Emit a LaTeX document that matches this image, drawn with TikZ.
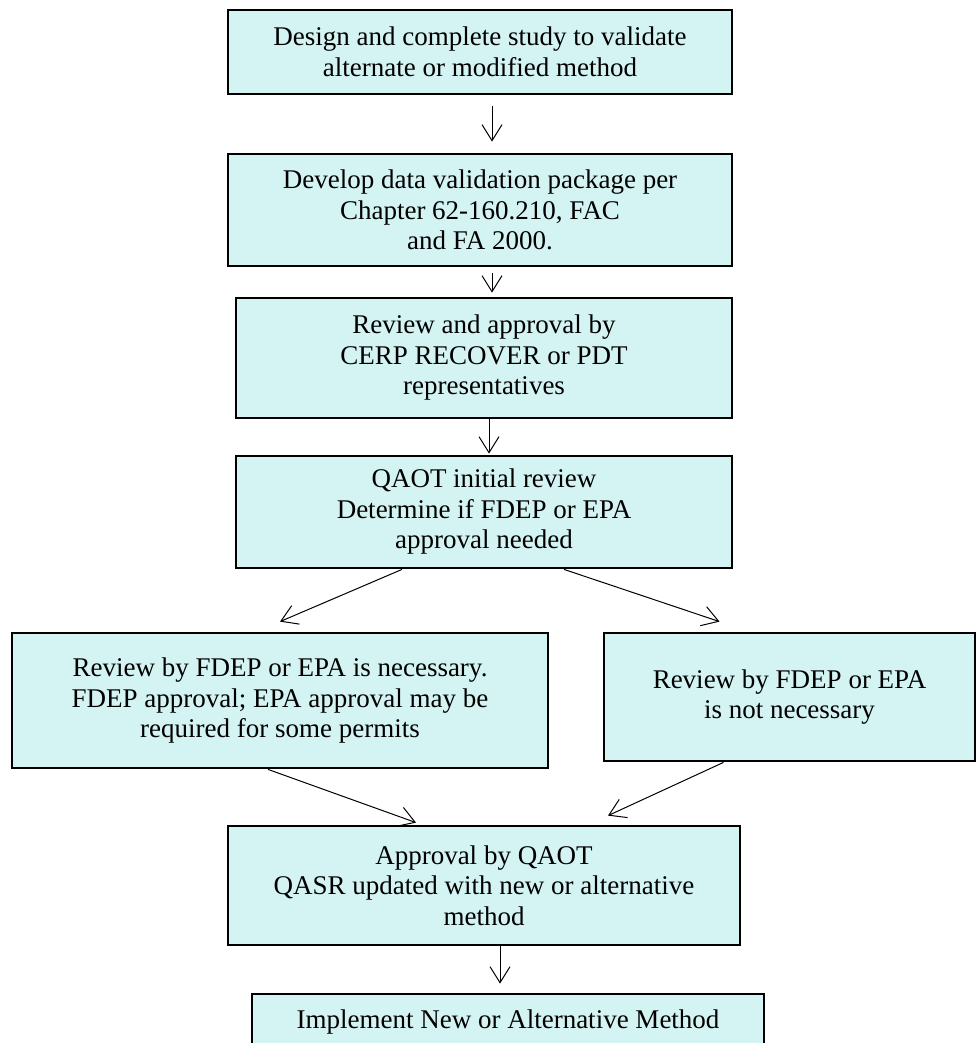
\documentclass[tikz,border=0pt]{standalone}
\usepackage{fontspec}
\setmainfont{Liberation Serif}
\usetikzlibrary{arrows.meta}
\definecolor{boxcyan}{RGB}{212,243,243}

\begin{document}
\begin{tikzpicture}[
  x=1pt, y=-1pt,
  >={Straight Barb[length=16pt,width=20pt]},
  flowbox/.style={draw, line width=2.8pt, fill=boxcyan, align=center, inner sep=0pt,
    font=\fontsize{27}{30.5}\selectfont},
  link/.style={->, line width=1pt},
]
  \useasboundingbox (0,0) rectangle (977,1043);
  \clip (0,0) rectangle (977,1043);

  % Row 1-4: study, package, review, QAOT check
  \node[flowbox, minimum width=504pt, minimum height=84pt] (design) at (480,52)
    {Design and complete study to validate\\alternate or modified method};
  \node[flowbox, minimum width=504pt, minimum height=112pt] (pkg) at (480,210)
    {Develop data validation package per\\Chapter 62-160.210, FAC\\and FA 2000.};
  \node[flowbox, minimum width=496pt, minimum height=120pt] (review) at (484,358)
    {Review and approval by\\CERP RECOVER or PDT\\representatives};
  \node[flowbox, minimum width=496pt, minimum height=112pt] (qaot) at (484,512)
    {QAOT initial review\\Determine if FDEP or EPA\\approval needed};

  % Row 5: the two outcomes
  \node[flowbox, minimum width=536pt, minimum height=135pt] (need) at (280,700.5)
    {Review by FDEP or EPA is necessary.\\FDEP approval; EPA approval may be\\required for some permits};
  \node[flowbox, minimum width=371pt, minimum height=128pt] (noneed) at (789.5,697)
    {Review by FDEP or EPA\\is not necessary};

  % Row 6-7: approval and implementation
  \node[flowbox, minimum width=512pt, minimum height=119pt] (approve) at (484,885.5)
    {Approval by QAOT\\QASR updated with new or alternative\\method};
  \node[flowbox, minimum width=512pt, minimum height=56pt] (impl) at (508,1022)
    {Implement New or Alternative Method};

  % Edges
  \draw[link] ([xshift=12pt,yshift=-11pt]design.south) -- ([xshift=12pt,yshift=11pt]pkg.north);
  \draw[link] ([xshift=12pt,yshift=-6pt]pkg.south) -- ([xshift=8pt,yshift=4pt]review.north);
  \draw[link] ([xshift=5pt]review.south) -- ([xshift=5pt,yshift=1pt]qaot.north);
  \draw[link] ([xshift=-82pt]qaot.south) -- ([yshift=10pt]need.north);
  \draw[link] ([xshift=80pt]qaot.south) -- ([xshift=-70pt,yshift=10pt]noneed.north);
  \draw[link] ([xshift=-12pt]need.south) -- ([xshift=-68pt,yshift=2pt]approve.north);
  \draw[link] ([xshift=-66pt]noneed.south) -- ([xshift=124pt,yshift=9pt]approve.north);
  \draw[link] ([xshift=16pt]approve.south) -- ([xshift=-8pt,yshift=9pt]impl.north);
\end{tikzpicture}
\end{document}
